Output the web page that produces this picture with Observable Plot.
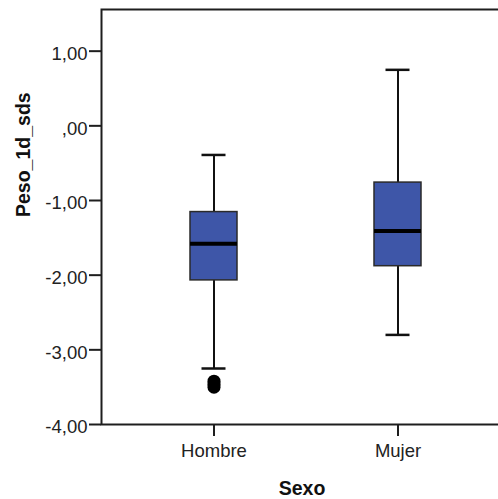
<!DOCTYPE html>
<html>
<head>
<meta charset="utf-8">
<script src="https://cdn.jsdelivr.net/npm/d3@7"></script>
<script src="https://cdn.jsdelivr.net/npm/@observablehq/plot@0.6"></script>
<style>
  html, body { margin: 0; padding: 0; background: #fff; overflow: hidden; }
  svg { display: block; max-width: none !important; }
</style>
</head>
<body>
<div id="chart"></div>
<script>
// Data
const sexo = ["Hombre", "Mujer"];
const lowerWhisker = [-3.25, -2.80];
const q1 = [-2.07, -1.88];
const median = [-1.58, -1.41];
const q3 = [-1.155, -0.76];
const upperWhisker = [-0.39, 0.75];
const outlierSexo = ["Hombre", "Hombre", "Hombre"];
const outlierValues = [-3.42, -3.46, -3.50];
const yTicks = [-4, -3, -2, -1, 0, 1];
const yTickLabels = ["-4,00", "-3,00", "-2,00", "-1,00", ",00", "1,00"];
const yLabel = "Peso_1d_sds";
const xLabel = "Sexo";

const boxes = sexo.map((s, i) => ({
  sexo: s, lo: lowerWhisker[i], q1: q1[i], med: median[i], q3: q3[i], hi: upperWhisker[i]
}));
const outliers = outlierValues.map((v, i) => ({sexo: outlierSexo[i], v}));

const FONT = "'Liberation Sans', Arial, sans-serif";
const ink = "#1e1e1e";

// The plot is a little wider than the window so that the frame's right edge
// falls outside the picture, as in the reference.
const chart = Plot.plot({
  width: 508,
  height: 499,
  marginLeft: 101,
  marginRight: 0,
  marginTop: 9,
  marginBottom: 75,
  style: {fontFamily: FONT, background: "#fff", color: ink, maxWidth: "none"},
  x: {type: "band", domain: sexo, range: [101, 510], paddingInner: 0.745, paddingOuter: 0.483},
  y: {domain: [-4, 1.558]},
  marks: [
    // whiskers
    Plot.ruleX(boxes, {x: "sexo", y1: "lo", y2: "q1", stroke: "#111", strokeWidth: 2}),
    Plot.ruleX(boxes, {x: "sexo", y1: "q3", y2: "hi", stroke: "#111", strokeWidth: 2}),
    Plot.tickY(boxes, {x: "sexo", y: "lo", stroke: "#111", strokeWidth: 2.5, insetLeft: 11.5, insetRight: 11.5}),
    Plot.tickY(boxes, {x: "sexo", y: "hi", stroke: "#111", strokeWidth: 2.5, insetLeft: 11.5, insetRight: 11.5}),
    // box
    Plot.barY(boxes, {x: "sexo", y1: "q1", y2: "q3", fill: "#3e56a8", stroke: "#2a2a2a", strokeWidth: 1.5}),
    // median
    Plot.tickY(boxes, {x: "sexo", y: "med", stroke: "#000", strokeWidth: 4}),
    // outliers
    Plot.dot(outliers, {x: "sexo", y: "v", r: 6.5, fill: "#000", stroke: "none"}),
    // frame
    Plot.frame({stroke: ink, strokeWidth: 2}),
    // y axis: ticks only
    Plot.axisY({
      ticks: yTicks, tickFormat: () => "",
      tickSize: 12, tickPadding: 0, label: null, stroke: ink, strokeWidth: 2
    }),
    // y axis: labels only
    Plot.axisY({
      ticks: yTicks,
      tickFormat: (d) => yTickLabels[yTicks.indexOf(d)],
      tickSize: 0, tickPadding: 14, fontSize: 18.5, label: null, dy: 3, fill: "#222"
    }),
    Plot.axisX({
      tickSize: 12, tickPadding: 7, fontSize: 18.5, label: null,
      stroke: ink, strokeWidth: 2, fill: "#222"
    }),
    Plot.text([yLabel], {frameAnchor: "left", dx: -78, rotate: -90, text: (d) => d,
      fontSize: 19.5, fontWeight: "bold", fill: "#111"}),
    Plot.text([xLabel], {frameAnchor: "bottom", dy: 70, dx: -3, text: (d) => d,
      fontSize: 19.5, fontWeight: "bold", fill: "#111"})
  ]
});
document.getElementById("chart").appendChild(chart);
</script>
</body>
</html>
